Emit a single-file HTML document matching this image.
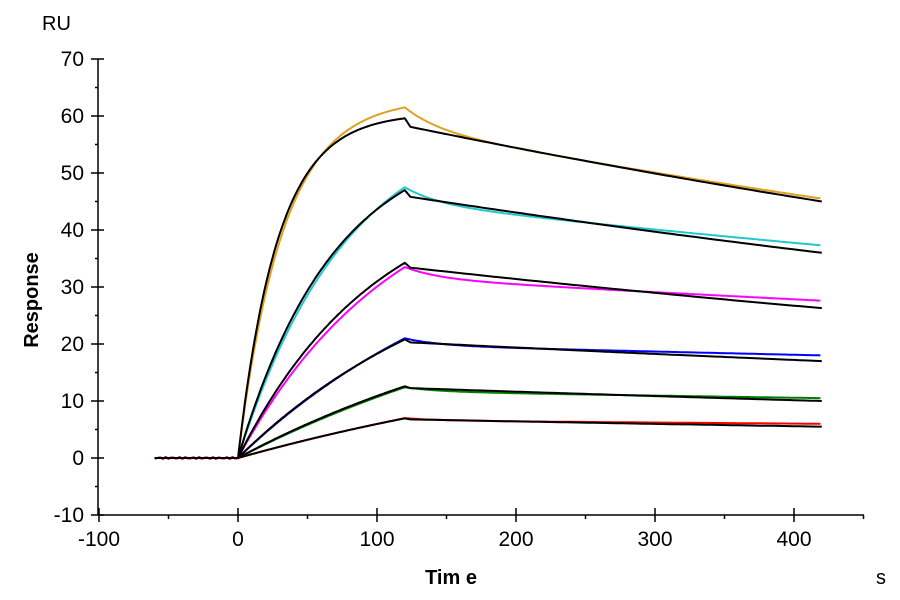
<!DOCTYPE html>
<html><head><meta charset="utf-8"><style>
body{margin:0;background:#fff;}
svg{display:block;font-family:"Liberation Sans",Arial,sans-serif;}
</style></head><body>
<svg id="s" width="900" height="600" viewBox="0 0 900 600" xmlns="http://www.w3.org/2000/svg">
<rect width="900" height="600" fill="#fff"/>
<g id="axes" stroke="#000" stroke-width="1.5" fill="none"></g>
<g id="labels" font-size="21" fill="#000"></g>
<g id="curves" fill="none" stroke-width="2" stroke-linejoin="round"></g>
<text x="42" y="30" font-size="20">RU</text>
<text transform="translate(38,300) rotate(-90)" font-size="20" font-weight="bold" text-anchor="middle">Response</text>
<text x="451" y="584" font-size="20" font-weight="bold" text-anchor="middle">Tim e</text>
<text x="876" y="584" font-size="20">s</text>
</svg>
<script>
const X=t=>238+1.39*t, Y=v=>458-5.7*v;
const ax=document.getElementById('axes'), lb=document.getElementById('labels'), cv=document.getElementById('curves');
const NS='http://www.w3.org/2000/svg';
function el(p,tag,a,txt){const e=document.createElementNS(NS,tag);for(const k in a)e.setAttribute(k,a[k]);if(txt!==undefined)e.textContent=txt;p.appendChild(e);return e;}
el(ax,'line',{x1:98,y1:59,x2:98,y2:515});
el(ax,'line',{x1:98,y1:515,x2:864,y2:515});
for(let v=-10;v<=70;v+=5){const y=Y(v);const maj=v%10==0;
 el(ax,'line',{x1:maj?91:95,y1:y,x2:maj?104:98,y2:y});
 if(maj)el(lb,'text',{x:84,y:y+7,'text-anchor':'end'},v);}
for(let t=-100;t<=450;t+=50){const x=X(t);const maj=t%100==0;
 el(ax,'line',{x1:x,y1:maj?508:515,x2:x,y2:maj?522:519});
 if(maj&&t<=400)el(lb,'text',{x:x,y:546,'text-anchor':'middle'},t);}
const S=[
 ['#e0a020',60.5,0.035,61.5,45.5,45],
 ['#20c8d0',57,0.0145,47.5,37.3,36],
 ['#ff00ff',49,0.0100,33.5,27.6,26.3],
 ['#0000ff',41,0.0059,21,18,17],
 ['#008000',33,0.0040,12.4,10.5,10],
 ['#ff0000',23,0.0030,7,6,5.5]];
function path(pts){return pts.map((p,i)=>(i?'L':'M')+X(p[0]).toFixed(1)+','+Y(p[1]).toFixed(1)).join('');}
S.forEach(s=>{const [c,Req,k,R120c,endc,endb]=s;
 let p=[];
 for(let t=-60;t<=0;t+=2)p.push([t,(Math.sin(t*1.3)*0.15)]);
 const kc=k*0.88, Reqc=R120c/(1-Math.exp(-kc*120));
 for(let t=0;t<=120;t+=1)p.push([t,Reqc*(1-Math.exp(-kc*t))]);
 const a=0.06, k1=0.04;
 const f=endc/R120c; const rem=(f-a*Math.exp(-k1*300))/(1-a); const k2=-Math.log(rem)/300;
 for(let t=121;t<=420;t+=2){const d=t-120;p.push([t,R120c*(a*Math.exp(-k1*d)+(1-a)*Math.exp(-k2*d))]);}
 el(cv,'path',{d:path(p),stroke:c});
 let b=[];
 for(let t=-60;t<=0;t+=5)b.push([t,0]);
 for(let t=0;t<=120;t+=1)b.push([t,Req*(1-Math.exp(-k*t))]);
 const Rb120=Req*(1-Math.exp(-k*120));
 const st=Rb120*0.975;
 const kd=Math.log(st/endb)/296;
 for(let t=124;t<=420;t+=4)b.push([t,st*Math.exp(-kd*(t-124))]);
 el(cv,'path',{d:path(b),stroke:'#000'});
});
</script>
</body></html>
